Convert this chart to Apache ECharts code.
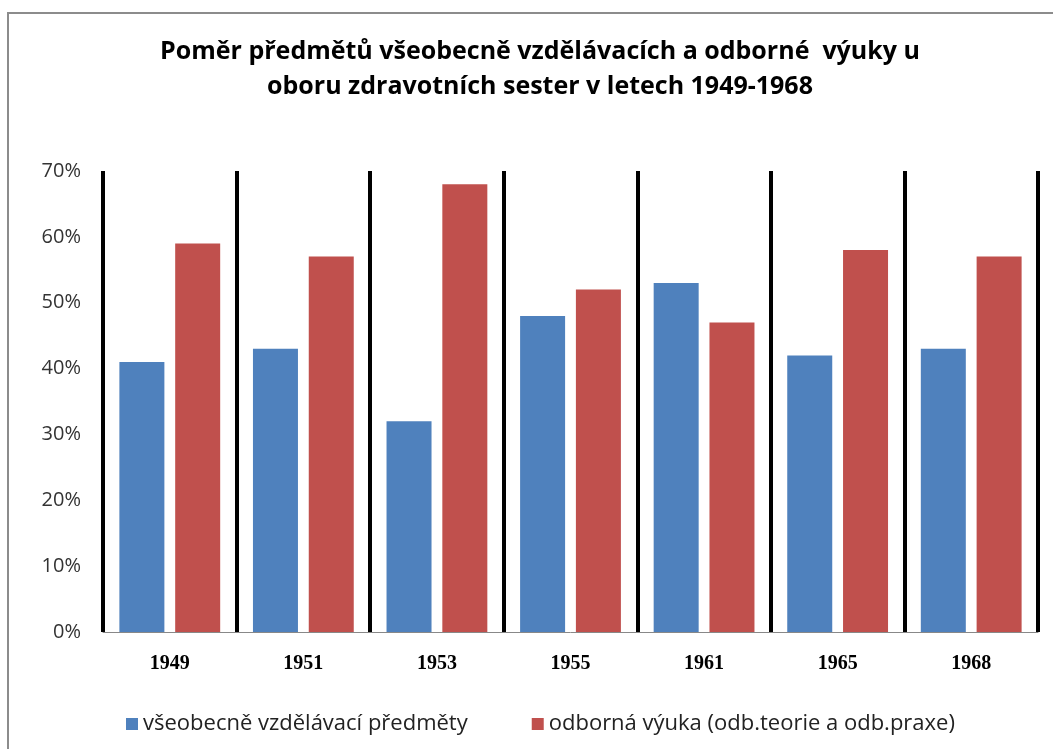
<!DOCTYPE html>
<html>
<head>
<meta charset="utf-8">
<script src="https://cdn.jsdelivr.net/npm/echarts@6/dist/echarts.min.js"></script>
<style>
  html, body { margin: 0; padding: 0; background: #fff; }
  #chart { width: 1053px; height: 749px; }
</style>
</head>
<body>
<div id="chart"></div>
<script>
  const years = ["1949", "1951", "1953", "1955", "1961", "1965", "1968"];
  const generalValues = [41, 43, 32, 48, 53, 42, 43];
  const vocationalValues = [59, 57, 68, 52, 47, 58, 57];
  const seriesNames = ["všeobecně vzdělávací předměty", "odborná výuka (odb.teorie a odb.praxe)"];
  const titleText = "Poměr předmětů všeobecně vzdělávacích a odborné  výuky u\noboru zdravotních sester v letech 1949-1968";

  const chart = echarts.init(document.getElementById("chart"));

  const option = {
    animation: false,
    color: ["#4F81BD", "#C0504D"],
    title: {
      text: titleText,
      left: 535,
      textAlign: "center",
      top: 29,
      textStyle: {
        fontFamily: "Open Sans",
        fontWeight: "bold",
        fontSize: 25,
        lineHeight: 35,
        color: "#000",
      },
    },
    legend: {
      left: 121,
      top: 708,
      icon: "rect",
      itemWidth: 12,
      itemHeight: 12,
      itemGap: 64,
      textStyle: {
        fontFamily: "Open Sans",
        fontSize: 22,
        color: "#222",
      },
      data: seriesNames,
    },
    grid: {
      left: 103,
      right: 15,
      top: 171,
      bottom: 117,
    },
    xAxis: {
      type: "category",
      data: years,
      axisLine: { show: true, lineStyle: { color: "#888", width: 1 } },
      axisTick: { show: false },
      axisLabel: {
        margin: 22,
        fontFamily: "Liberation Serif",
        fontWeight: "bold",
        fontSize: 20,
        color: "#000",
      },
      splitLine: {
        show: true,
        lineStyle: { color: "#000", width: 4 },
      },
    },
    yAxis: {
      type: "value",
      min: 0,
      max: 70,
      interval: 10,
      axisLine: { show: false },
      axisTick: { show: false },
      splitLine: { show: false },
      axisLabel: {
        formatter: "{value}%",
        margin: 22,
        fontFamily: "Open Sans",
        fontSize: 20,
        color: "#333",
      },
    },
    series: [
      {
        name: seriesNames[0],
        type: "bar",
        barWidth: 45,
        barGap: "24%",
        data: generalValues,
      },
      {
        name: seriesNames[1],
        type: "bar",
        barWidth: 45,
        data: vocationalValues,
      },
    ],
    graphic: [
      {
        type: "rect",
        shape: { x: 8, y: 13, width: 1100, height: 800 },
        style: { fill: "none", stroke: "#8c8c8c", lineWidth: 2 },
        silent: true,
      },
    ],
  };

  chart.setOption(option);
</script>
</body>
</html>
